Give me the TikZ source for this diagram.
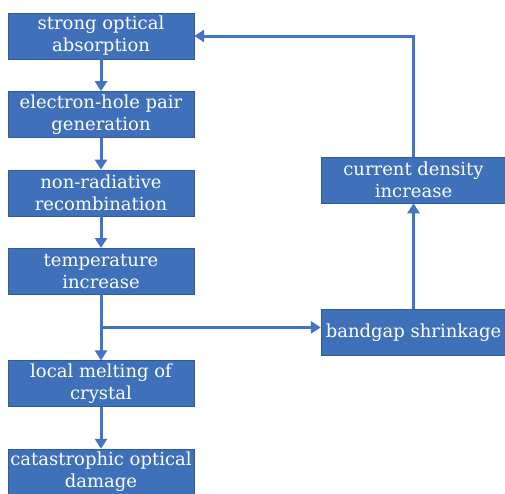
\documentclass[tikz,border=0pt]{standalone}
\usepackage{fontspec}
\setmainfont{DejaVu Serif}
\usetikzlibrary{positioning,arrows.meta,calc}

\definecolor{boxblue}{HTML}{3F71BA}
\definecolor{edgeblue}{HTML}{2F5C9E}
\definecolor{lineblue}{HTML}{4472C4}

\begin{document}
\begin{tikzpicture}[
  x=1pt,y=-1pt,
  box/.style={draw=edgeblue,fill=boxblue,text=white,align=center,inner sep=0pt,
    minimum width=186pt,minimum height=46pt,
    font=\fontsize{18}{22}\selectfont},
  arr/.style={lineblue,line width=3pt,-{Triangle[length=10pt,width=12pt]}}
]
\clip (0,0) rectangle (505,493);

% Left column - main chain
\node[box] at (101,36) (absorb) {strong optical\\absorption};
\node[box,below=32pt of absorb] (pair) {electron-hole pair\\generation};
\node[box,below=32pt of pair] (nonrad) {non-radiative\\recombination};
\node[box,below=32pt of nonrad] (temp) {temperature\\increase};
\node[box,below=66pt of temp] (melt) {local melting of\\crystal};
\node[box,below=42pt of melt] (cod) {catastrophic optical\\damage};

% Right column - feedback loop
\node[box,minimum width=185pt] at (413.5,332.5) (shrink) {bandgap shrinkage};
\node[box,minimum width=185pt,above=106pt of shrink] (current) {current density\\increase};

% Arrows
\draw[arr] (absorb) -- (pair);
\draw[arr] (pair) -- (nonrad);
\draw[arr] (nonrad) -- (temp);
\draw[arr] (temp) -- (melt);
\draw[arr] (melt) -- (cod);
\coordinate (split) at ($(temp.south)!0.5!(melt.north)$);
\draw[arr] (split) -- (split -| shrink.west);
\draw[arr] (shrink) -- (current);
\draw[arr] (current.north) |- (absorb.east);
\end{tikzpicture}
\end{document}
